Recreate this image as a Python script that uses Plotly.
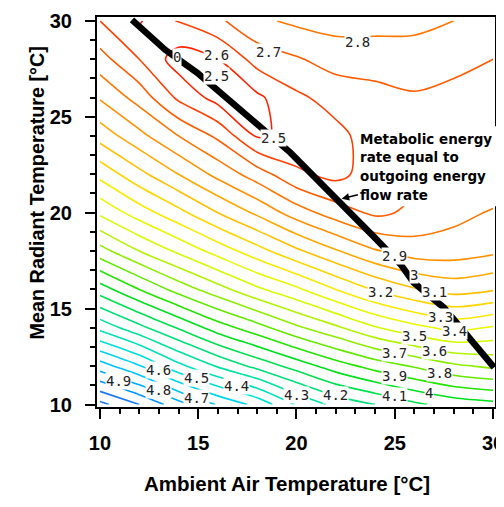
import plotly.graph_objects as go

# Grid of the contoured quantity
air_temp = [10, 12, 14, 16, 18, 20, 22, 24, 26, 28, 30]
radiant_temp = [10, 12, 14, 16, 18, 20, 22, 24, 26, 28, 30]
z_rows = [
    [5.13, 5.00, 4.84, 4.69, 4.57, 4.39, 4.27, 4.20, 4.12, 4.06, 4.03],
    [4.75, 4.61, 4.43, 4.29, 4.17, 4.06, 3.95, 3.86, 3.79, 3.72, 3.68],
    [4.37, 4.23, 4.09, 3.95, 3.84, 3.72, 3.62, 3.51, 3.43, 3.37, 3.41],
    [4.05, 3.90, 3.76, 3.64, 3.52, 3.42, 3.30, 3.19, 3.11, 3.06, 3.09],
    [3.74, 3.60, 3.48, 3.36, 3.24, 3.12, 3.01, 2.91, 2.85, 2.85, 2.88],
    [3.48, 3.35, 3.23, 3.10, 2.98, 2.85, 2.75, 2.68, 2.72, 2.77, 2.81],
    [3.27, 3.13, 3.00, 2.87, 2.75, 2.62, 2.57, 2.65, 2.67, 2.69, 2.72],
    [3.06, 2.93, 2.80, 2.68, 2.49, 2.52, 2.57, 2.65, 2.66, 2.66, 2.68],
    [2.89, 2.76, 2.58, 2.46, 2.48, 2.58, 2.64, 2.67, 2.69, 2.67, 2.66],
    [2.74, 2.60, 2.45, 2.50, 2.64, 2.69, 2.74, 2.74, 2.75, 2.73, 2.70],
    [2.60, 2.49, 2.61, 2.68, 2.78, 2.82, 2.84, 2.84, 2.83, 2.80, 2.78],
]

# Balance line (metabolic rate = outgoing energy flow rate)
balance_x = [11.63, 13.32, 14.95, 18.27, 19.69, 23.93, 25.3, 25.97, 27.5, 30.05]
balance_y = [30.05, 28.49, 27.29, 24.32, 23.13, 18.75, 17.3, 16.35, 15.05, 11.93]

# Contour labels
label_text = ["0", "2.6", "2.5", "2.7", "2.5", "2.8", "2.9", "3", "3.2", "3.1",
              "3.3", "3.4", "3.5", "3.7", "3.6", "3.9", "3.8", "4.1", "4", "4.2",
              "4.3", "4.4", "4.5", "4.7", "4.6", "4.8", "4.9"]
label_x = [13.93, 15.95, 15.95, 18.59, 18.84, 23.09, 24.97, 25.99, 24.29, 27.0,
           27.35, 28.03, 25.99, 24.97, 27.0, 24.97, 27.26, 24.97, 26.75, 21.99,
           20.0, 16.97, 14.93, 14.93, 12.98, 12.98, 10.94]
label_y = [28.13, 28.23, 27.1, 28.4, 23.89, 28.89, 17.76, 16.77, 15.85, 15.85,
           14.55, 13.82, 13.56, 12.69, 12.81, 11.51, 11.65, 10.43, 10.61, 10.52,
           10.52, 10.95, 11.39, 10.35, 11.82, 10.78, 11.21]

# Callout text lines
note_lines = ["Metabolic energy", "rate equal to", "outgoing energy", "flow rate"]
note_y = [23.85, 22.92, 21.93, 20.94]

x_ticks = [10, 15, 20, 25, 30]
y_ticks = [10, 15, 20, 25, 30]

colorscale = [
    [0.000, "#ff2400"],
    [0.077, "#ff5a00"],
    [0.154, "#ff8c00"],
    [0.231, "#ffbb00"],
    [0.308, "#ffe600"],
    [0.385, "#e0ff00"],
    [0.462, "#a0f000"],
    [0.538, "#50e800"],
    [0.577, "#00e000"],
    [0.654, "#00e060"],
    [0.731, "#00e0a8"],
    [0.808, "#00e0e0"],
    [0.885, "#00c0ff"],
    [0.962, "#0095ff"],
    [1.000, "#1878f0"],
]

fig = go.Figure()
fig.add_trace(go.Contour(
    x=air_temp, y=radiant_temp, z=z_rows,
    contours=dict(start=2.5, end=5.1, size=0.1, coloring="lines", showlabels=False),
    line=dict(width=1.6, smoothing=0.9),
    colorscale=colorscale, zmin=2.5, zmax=5.1,
    showscale=False, hoverinfo="skip",
))
fig.add_trace(go.Scatter(
    x=balance_x, y=balance_y, mode="lines",
    line=dict(color="black", width=6.5), hoverinfo="skip",
))

annotations = []
for t, lx, ly in zip(label_text, label_x, label_y):
    annotations.append(dict(
        x=lx, y=ly, xref="x", yref="y", text=t, showarrow=False,
        font=dict(family="DejaVu Sans Mono", size=14, color="#222222"),
        bgcolor="white", borderpad=0,
    ))

for t, ny in zip(note_lines, note_y):
    annotations.append(dict(
        x=23.12, y=ny, xref="x", yref="y", xanchor="left", yanchor="middle",
        align="left", showarrow=False, text=t,
        font=dict(family="DejaVu Sans", size=13.5, color="black", weight="bold"),
    ))
annotations.append(dict(
    x=22.3, y=20.73, xref="x", yref="y", ax=23.2, ay=20.95, axref="x", ayref="y",
    text="", showarrow=True, arrowhead=2, arrowsize=1, arrowwidth=1.5, arrowcolor="black",
))
annotations.append(dict(
    x=0.477, y=-0.231, xref="paper", yref="paper", showarrow=False,
    text="Ambient Air Temperature [°C]",
    font=dict(family="Liberation Sans", size=20.5, color="black", weight="bold"),
))
annotations.append(dict(
    x=-0.183, y=0.548, xref="paper", yref="paper", showarrow=False, textangle=-90,
    text="Mean Radiant Temperature [°C]",
    font=dict(family="Liberation Sans", size=19.8, color="black", weight="bold"),
))

# white backing of the callout (hides lines and the right frame behind it)
shapes = [dict(
    type="rect", xref="paper", yref="paper", x0=0.652, x1=1.03, y0=0.515, y1=0.72,
    fillcolor="white", line=dict(width=0), layer="above",
)]

axis_common = dict(
    ticks="outside", ticklen=10, tickwidth=2, tickcolor="black",
    showline=True, linewidth=2, linecolor="black", mirror=True,
    showgrid=False, zeroline=False,
    tickfont=dict(family="Liberation Sans", size=20, color="black", weight="bold"),
    minor=dict(dtick=1, ticks="outside", ticklen=5, tickwidth=1.5, tickcolor="black", showgrid=False),
)

# the page body adds an 8 px offset, so margins are shifted by 8 px
fig.update_layout(
    width=504, height=507,
    margin=dict(l=89, r=17, t=9, b=108, pad=0, autoexpand=False),
    paper_bgcolor="white", plot_bgcolor="white",
    showlegend=False,
    xaxis=dict(range=[9.85, 30.1], tickvals=x_ticks, ticklabelstandoff=7, **axis_common),
    yaxis=dict(range=[9.87, 30.2], tickvals=y_ticks, ticklabelstandoff=9, **axis_common),
    annotations=annotations,
    shapes=shapes,
)

fig.write_html("out.html")
